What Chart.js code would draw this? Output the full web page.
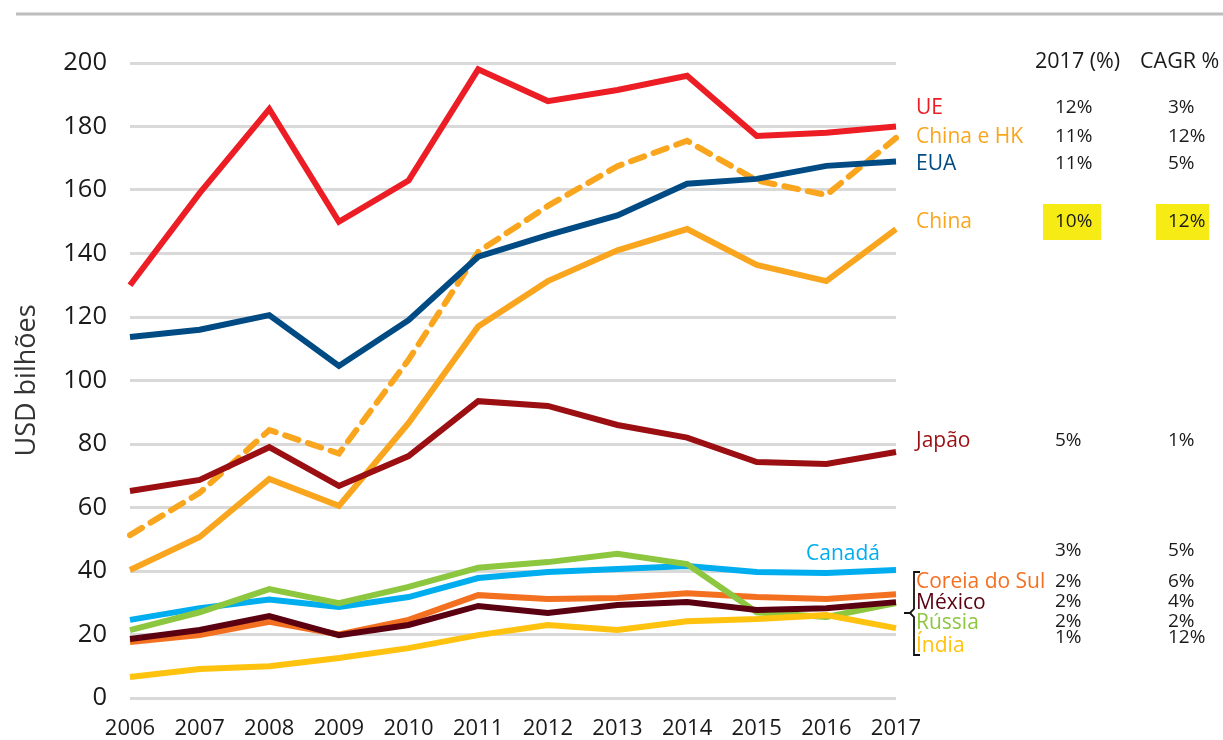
<!DOCTYPE html>
<html lang="pt">
<head>
  <meta charset="UTF-8">
  <title>Importações por região</title>
  <script src="https://cdn.jsdelivr.net/npm/chart.js"></script>
  <style>
    body {
      margin: 0;
      background: #fff;
      font-family: 'Open Sans', sans-serif;
    }
    .wrap {
      position: relative;
      width: 1223px;
      height: 740px;
    }
  </style>
</head>
<body>
  <div class="wrap">
    <canvas id="chart"></canvas>
  </div>

  <script>
    // data (USD bilhões)
    const years = ['2006','2007','2008','2009','2010','2011','2012','2013','2014','2015','2016','2017'];
    const ue      = [130, 159, 185.5, 150, 163, 198, 188, 191.5, 196, 177, 178, 180];
    const chinaHK = [51.3, 64.6, 84.4, 77, 106.5, 140.5, 155, 167.5, 175.5, 163, 158.4, 176.4];
    const eua     = [113.7, 116, 120.6, 104.6, 119, 139, 145.8, 152, 162, 163.5, 167.6, 169];
    const china   = [40.3, 50.7, 69, 60.5, 86.6, 117, 131.3, 141, 147.7, 136.4, 131.3, 147.7];
    const japao   = [65.2, 68.7, 79, 66.8, 76.2, 93.5, 92, 86, 82, 74.3, 73.7, 77.5];
    const canada  = [24.6, 28.3, 31, 28.7, 31.8, 37.8, 39.7, 40.6, 41.6, 39.7, 39.4, 40.3];
    const russia  = [21.4, 27, 34.3, 29.9, 35, 41, 42.8, 45.4, 42.2, 27, 25.5, 29.9];
    const coreia  = [17.6, 19.8, 24, 20, 24.6, 32.4, 31.2, 31.5, 33, 31.8, 31.2, 32.7];
    const mexico  = [18.6, 21.4, 25.8, 19.8, 23, 29, 26.8, 29.3, 30.2, 27.7, 28.3, 30.2];
    const india   = [6.6, 9.1, 10, 12.6, 15.7, 19.8, 23, 21.4, 24.2, 24.9, 26.1, 22];

    // side table
    const seriesNames = ['UE', 'China e HK', 'EUA', 'China', 'Japão', 'Canadá', 'Coreia do Sul', 'México', 'Rússia', 'Índia'];
    const share2017   = ['12%', '11%', '11%', '10%', '5%', '3%', '2%', '2%', '2%', '1%'];
    const cagr        = ['3%', '12%', '5%', '12%', '1%', '5%', '6%', '4%', '2%', '12%'];
    const tableHeaders = ['2017 (%)', 'CAGR %'];

    const colors = {
      'UE': '#EC1D25',
      'China e HK': '#F9A61E',
      'EUA': '#004B84',
      'China': '#F9A61E',
      'Japão': '#9B0E12',
      'Canadá': '#00AEEF',
      'Coreia do Sul': '#F37021',
      'México': '#5B0010',
      'Rússia': '#8DC63F',
      'Índia': '#FFC20E'
    };

    function line(label, data, extra) {
      return Object.assign({
        label: label,
        data: data,
        borderColor: colors[label],
        backgroundColor: colors[label],
        borderWidth: 6,
        pointRadius: 0,
        tension: 0,
        fill: false
      }, extra || {});
    }

    // first in list = drawn on top
    const datasets = [
      line('UE', ue),
      line('Japão', japao),
      line('EUA', eua),
      line('China e HK', chinaHK, { borderDash: [14, 10], borderCapStyle: 'round' }),
      line('China', china),
      line('Índia', india),
      line('México', mexico),
      line('Rússia', russia),
      line('Coreia do Sul', coreia),
      line('Canadá', canada)
    ];

    // extra drawing: top rule, labels, table, bracket
    const decor = {
      id: 'decor',
      beforeDraw(chart) {
        const ctx = chart.ctx;
        ctx.save();
        ctx.strokeStyle = '#BDBDBD';
        ctx.lineWidth = 3;
        ctx.beginPath();
        ctx.moveTo(16, 14);
        ctx.lineTo(1223, 14);
        ctx.stroke();
        ctx.restore();
      },
      afterDraw(chart) {
        const ctx = chart.ctx;
        const labelY = [108, 137, 164, 222, 441, 554, 582, 603, 623, 646];
        const valueY = [108, 137, 164, 222, 441, 551, 582, 602, 622, 638];
        ctx.save();
        ctx.textBaseline = 'middle';

        // yellow highlight boxes (China row)
        ctx.fillStyle = '#F6EB14';
        ctx.fillRect(1043, 204, 58, 36);
        ctx.fillRect(1156, 204, 53, 36);

        // headers
        ctx.fillStyle = '#1a1a1a';
        ctx.font = '21.5px "Open Sans"';
        ctx.textAlign = 'left';
        ctx.fillText(tableHeaders[0], 1035, 62);
        ctx.fillText(tableHeaders[1], 1140, 62);

        seriesNames.forEach((name, i) => {
          ctx.font = '21px "Open Sans"';
          ctx.fillStyle = colors[name];
          if (name === 'Canadá') {
            ctx.textAlign = 'right';
            ctx.fillText(name, 880, labelY[i]);
          } else {
            ctx.textAlign = 'left';
            ctx.fillText(name, 916, labelY[i]);
          }
          ctx.font = '19px "Open Sans"';
          ctx.fillStyle = '#1a1a1a';
          ctx.textAlign = 'left';
          ctx.fillText(share2017[i], 1055, valueY[i]);
          ctx.fillText(cagr[i], 1168, valueY[i]);
        });

        // bracket grouping the small economies
        ctx.strokeStyle = '#111';
        ctx.lineWidth = 1.8;
        ctx.beginPath();
        ctx.moveTo(920, 572);
        ctx.lineTo(914, 572);
        ctx.lineTo(914, 609);
        ctx.lineTo(910, 613);
        ctx.lineTo(904, 613);
        ctx.moveTo(910, 613);
        ctx.lineTo(914, 617);
        ctx.lineTo(914, 655);
        ctx.lineTo(920, 655);
        ctx.stroke();
        ctx.restore();
      }
    };

    new Chart(document.getElementById('chart'), {
      type: 'line',
      data: { labels: years, datasets: datasets },
      options: {
        responsive: true,
        maintainAspectRatio: false,
        animation: false,
        layout: { padding: { top: 63, right: 327, bottom: 0, left: 0 } },
        plugins: {
          legend: { display: false },
          tooltip: { enabled: false }
        },
        scales: {
          x: {
            offset: false,
            grid: { display: false },
            border: { display: false },
            ticks: {
              color: '#1a1a1a',
              font: { family: 'Open Sans', size: 22 },
              padding: 10,
              maxRotation: 0,
              autoSkip: false
            },
            afterFit(scale) { scale.height = 42; }
          },
          y: {
            min: 0,
            max: 200,
            grid: { color: '#D9D9D9', lineWidth: 3, drawTicks: false },
            border: { display: false },
            ticks: {
              stepSize: 20,
              color: '#1a1a1a',
              font: { family: 'Open Sans', size: 25.5 },
              padding: 23
            },
            title: {
              display: true,
              text: 'USD bilhões',
              color: '#333',
              font: { family: 'Open Sans', size: 27 },
              padding: { top: 11, bottom: 0 }
            },
            afterFit(scale) { scale.width = 130; }
          }
        }
      },
      plugins: [decor]
    });
  </script>
</body>
</html>
